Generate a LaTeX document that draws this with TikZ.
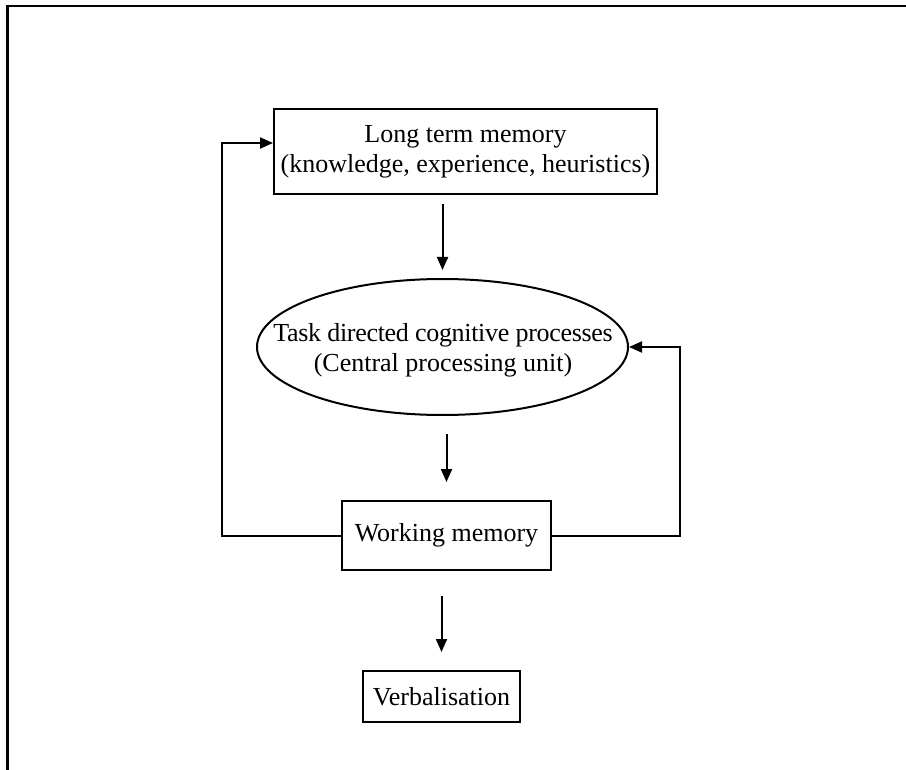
\documentclass[tikz,border=0pt]{standalone}
\usepackage{fontspec}
\setmainfont{Liberation Serif}
\usetikzlibrary{arrows.meta,shapes.geometric}

\begin{document}
\begin{tikzpicture}[x=1pt,y=-1pt,
  every node/.style={font=\fontsize{26}{30}\selectfont, align=center, inner sep=0pt},
  boxnode/.style={draw, line width=2pt, rectangle},
  ovalnode/.style={draw, line width=2pt, ellipse},
  link/.style={line width=2pt},
  flow/.style={link, -{Triangle[length=13pt,width=11pt]}}
]
% page extent
\useasboundingbox (0,0) rectangle (906,770);

% open frame: top and left edges only
\draw[line width=2.6pt] (7.5,770) -- (7.5,6) -- (906,6);

% blocks
\node[boxnode, minimum width=383pt, minimum height=85pt] (ltm) at (465.5,151.5)
  {Long term memory\\(knowledge, experience, heuristics)};
\node[ovalnode, minimum width=371pt, minimum height=136pt] (cpu) at (442.5,347) {};
\node (cputext) at (443,350)
  {\addfontfeatures{LetterSpace=-1.2}Task directed cognitive processes\\(Central processing unit)};
\node[boxnode, minimum width=209pt, minimum height=69pt] (wm) at (446.5,535.5)
  {Working memory};
\node[boxnode, minimum width=157pt, minimum height=51pt] (verb) at (441.5,696.5)
  {Verbalisation};

% turning points of the feedback loops
\coordinate (lb) at (222,535.5);
\coordinate (lt) at (222,143);
\coordinate (rb) at (680,535.5);

% downward flow
\draw[flow, shorten <=9pt, shorten >=8pt] (cpu.north |- ltm.south) -- (cpu.north);
\draw[flow, shorten <=18pt, shorten >=18pt] (wm.north |- cpu.south) -- (wm.north);
\draw[flow, shorten <=25pt, shorten >=18pt] (verb.north |- wm.south) -- (verb.north);

% feedback loops
\draw[flow] (wm.west) -- (lb) -- (lt) -- (lt -| ltm.west);
\draw[flow] (wm.east) -- (rb) -- (rb |- cpu.east) -- (cpu.east);
\end{tikzpicture}
\end{document}
